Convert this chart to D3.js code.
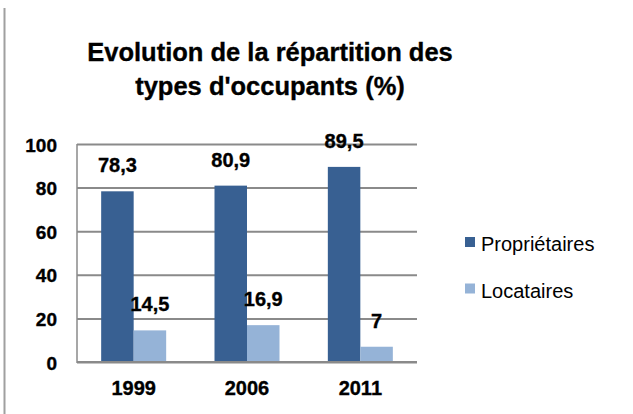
<!DOCTYPE html>
<html>
<head>
<meta charset="utf-8">
<script src="https://cdn.jsdelivr.net/npm/d3@7"></script>
<style>
  html, body { margin: 0; padding: 0; background: #fff; }
  text { font-family: "Liberation Sans", Arial, sans-serif; }
  text.b { stroke: #000; stroke-width: 0.35px; }
</style>
</head>
<body>
<svg id="chart" width="633" height="414"></svg>
<script>
const categories = ["1999", "2006", "2011"];
const seriesNames = ["Propriétaires", "Locataires"];
const proprietaires = [78.3, 80.9, 89.5];
const locataires = [14.5, 16.9, 7];
const yTicks = [0, 20, 40, 60, 80, 100];
const titleLines = ["Evolution de la répartition des", "types d'occupants (%)"];
const colors = ["#386092", "#95B3D7"];

const seriesValues = [proprietaires, locataires];
const svg = d3.select("#chart");

// outer left border
svg.append("line").attr("x1", 4.5).attr("x2", 4.5).attr("y1", 8).attr("y2", 414)
  .attr("stroke", "#a0a0a0").attr("stroke-width", 2);

// title
const title = svg.append("text").attr("class", "b").attr("text-anchor", "middle")
  .attr("font-size", 25.5).attr("font-weight", "bold").attr("fill", "#000");
titleLines.forEach((t, i) => {
  title.append("tspan").attr("x", 270).attr("y", 61 + i * 34).text(t);
});

const plot = { left: 77, right: 417, top: 144, bottom: 362 };
const p = 1 - 65 / ((plot.right - plot.left) / categories.length);
const x0 = d3.scaleBand().domain(categories).range([plot.left, plot.right])
  .paddingInner(p).paddingOuter(p / 2);
const x1 = d3.scaleBand().domain(seriesNames).range([0, x0.bandwidth()]);
const y = d3.scaleLinear().domain([0, 100]).range([plot.bottom, plot.top]);

// gridlines
const yAxis = d3.axisLeft(y).tickValues(yTicks).tickSize(-(plot.right - plot.left)).tickFormat("");
const gy = svg.append("g").attr("transform", `translate(${plot.left},0)`).call(yAxis);
gy.select(".domain").remove();
gy.selectAll(".tick line").attr("stroke", "#8a8a8a").attr("stroke-width", 2);

// y tick labels
svg.append("g").selectAll("text").data(yTicks).join("text").attr("class", "b")
  .attr("x", 57).attr("y", d => y(d)).attr("dy", "0.4em")
  .attr("text-anchor", "end").attr("font-size", 19).attr("font-weight", "bold")
  .text(d => d);

// left axis line
svg.append("line").attr("x1", plot.left).attr("x2", plot.left)
  .attr("y1", plot.top).attr("y2", plot.bottom + 1)
  .attr("stroke", "#8a8a8a").attr("stroke-width", 1.5);

// bars
const groups = svg.append("g").selectAll("g").data(categories).join("g")
  .attr("transform", c => `translate(${x0(c)},0)`);
groups.selectAll("rect").data((c, i) => seriesNames.map((s, j) => ({ s, j, v: seriesValues[j][i] })))
  .join("rect")
  .attr("x", d => x1(d.s)).attr("width", x1.bandwidth())
  .attr("y", d => y(d.v)).attr("height", d => y(0) - y(d.v))
  .attr("fill", d => colors[d.j]);

// bottom axis line over bars
svg.append("line").attr("x1", plot.left).attr("x2", plot.right)
  .attr("y1", plot.bottom).attr("y2", plot.bottom)
  .attr("stroke", "#8a8a8a").attr("stroke-width", 2);

// data labels
groups.selectAll("text.lbl").data((c, i) => seriesNames.map((s, j) => ({ s, j, v: seriesValues[j][i] })))
  .join("text").attr("class", "lbl b")
  .attr("x", d => x1(d.s) + x1.bandwidth() / 2).attr("y", d => y(d.v) - 19)
  .attr("text-anchor", "middle").attr("font-size", 20).attr("font-weight", "bold")
  .text(d => String(d.v).replace(".", ","));

// x labels
svg.append("g").selectAll("text").data(categories).join("text").attr("class", "b")
  .attr("x", c => x0(c) + x0.bandwidth() / 2).attr("y", 395)
  .attr("text-anchor", "middle").attr("font-size", 20).attr("font-weight", "bold")
  .text(c => c);

// legend
const leg = svg.append("g").selectAll("g").data(seriesNames).join("g")
  .attr("transform", (d, i) => `translate(465,${237 + i * 46.5})`);
leg.append("rect").attr("width", 10).attr("height", 10).attr("fill", (d, i) => colors[i]);
leg.append("text").attr("x", 16).attr("y", 14).attr("font-size", 20).text(d => d);
</script>
</body>
</html>
